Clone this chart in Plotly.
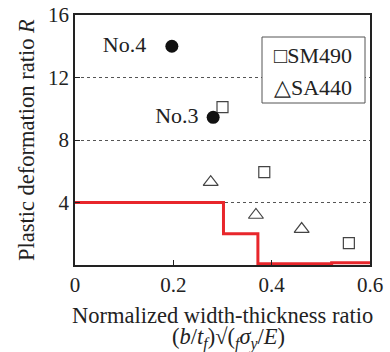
import plotly.graph_objects as go

# Data
sm490_x = [0.300, 0.385, 0.557]
sm490_y = [10.1, 5.95, 1.4]
sa440_x = [0.276, 0.368, 0.461]
sa440_y = [5.3, 3.2, 2.3]
spec_x = [0.197, 0.281]
spec_y = [14.0, 9.45]
spec_labels = ["No.4", "No.3"]
limit_x = [0.0, 0.302, 0.302, 0.372, 0.372, 0.522, 0.522, 0.6]
limit_y = [4.0, 4.0, 2.0, 2.0, 0.08, 0.08, 0.15, 0.15]
x_ticks = [0, 0.2, 0.4, 0.6]
x_ticktext = ["0", "0.2", "0.4", "0.6"]
y_ticks = [4, 8, 12, 16]

FONT = "Liberation Serif, Times New Roman, serif"
INK = "#222"

W, H = 390, 352
# plot area in page pixels
L, R, T, B = 75, 370, 15, 265


def px(xp):
    return (xp - L) / (R - L)


def py(yp):
    return (B - yp) / (B - T)


label_pad = ["   ", " "]

fig = go.Figure()
fig.add_trace(go.Scatter(x=limit_x, y=limit_y, mode="lines",
                         line=dict(color="#e8262b", width=3), showlegend=False,
                         name="limit"))
fig.add_trace(go.Scatter(x=sm490_x, y=sm490_y, mode="markers", name="SM490",
                         marker=dict(symbol="square-open", size=11, color="#444",
                                     line=dict(width=1.2, color="#444")),
                         showlegend=False))
fig.add_trace(go.Scatter(x=sa440_x, y=sa440_y, mode="markers", name="SA440",
                         marker=dict(symbol="triangle-up-open", size=13, color="#444",
                                     line=dict(width=1.2, color="#444")),
                         showlegend=False))
fig.add_trace(go.Scatter(x=spec_x, y=spec_y, mode="markers+text", name="specimens",
                         text=[s + p for s, p in zip(spec_labels, label_pad)],
                         textposition="middle left",
                         textfont=dict(family=FONT, size=22, color=INK),
                         marker=dict(symbol="circle", size=13, color="#111"),
                         showlegend=False))

fig.update_layout(
    width=W, height=H,
    margin=dict(l=L, r=W - R, t=T, b=H - B, pad=0),
    paper_bgcolor="white", plot_bgcolor="white",
    font=dict(family=FONT, size=21, color=INK),
    xaxis=dict(range=[0, 0.6], tickvals=x_ticks, ticktext=x_ticktext,
               showgrid=False, zeroline=False, showline=True, mirror=True,
               linecolor=INK, linewidth=1.5, ticks="inside", ticklen=5,
               tickcolor=INK, tickfont=dict(family=FONT, size=21, color=INK),
               ticklabeloverflow="allow", automargin=False),
    yaxis=dict(range=[0, 16], tickvals=y_ticks,
               showgrid=True, gridcolor="#555", griddash="dot", gridwidth=1,
               zeroline=False, showline=True, mirror=True,
               linecolor=INK, linewidth=1.5, ticks="inside", ticklen=5,
               tickcolor=INK, tickfont=dict(family=FONT, size=21, color=INK),
               ticklabeloverflow="allow", automargin=False),
)

# axis titles
fig.add_annotation(xref="paper", yref="paper", x=px(222), y=py(315),
                   xanchor="center", yanchor="middle", showarrow=False,
                   text="Normalized width-thickness ratio",
                   font=dict(family=FONT, size=22.5, color=INK))
fig.add_annotation(xref="paper", yref="paper", x=px(228), y=py(338),
                   xanchor="center", yanchor="middle", showarrow=False,
                   text="(<i>b</i>/<i>t<sub>f</sub></i>)√(<sub><i>f</i></sub><i>σ<sub>y</sub></i>/<i>E</i>)",
                   font=dict(family=FONT, size=22.5, color=INK))
fig.add_annotation(xref="paper", yref="paper", x=px(26), y=py(140),
                   xanchor="center", yanchor="middle", showarrow=False, textangle=-90,
                   text="Plastic deformation ratio <i>R</i>",
                   font=dict(family=FONT, size=22.5, color=INK))

# legend box
fig.add_shape(type="rect", xref="paper", yref="paper",
              x0=px(262), x1=px(365), y0=py(103), y1=py(37),
              line=dict(color="#555", width=1), fillcolor="white", layer="above")
fig.add_annotation(xref="paper", yref="paper", x=px(272), y=py(55),
                   xanchor="left", yanchor="middle", showarrow=False,
                   text="□SM490", font=dict(family=FONT, size=22, color=INK))
fig.add_annotation(xref="paper", yref="paper", x=px(272), y=py(87),
                   xanchor="left", yanchor="middle", showarrow=False,
                   text="△SA440", font=dict(family=FONT, size=22, color=INK))

# remove the default page margin so the figure sits at the window's corner
fig.write_html("out.html", config={"displayModeBar": False},
               post_script="document.body.style.margin='0';document.body.style.overflow='hidden';")
